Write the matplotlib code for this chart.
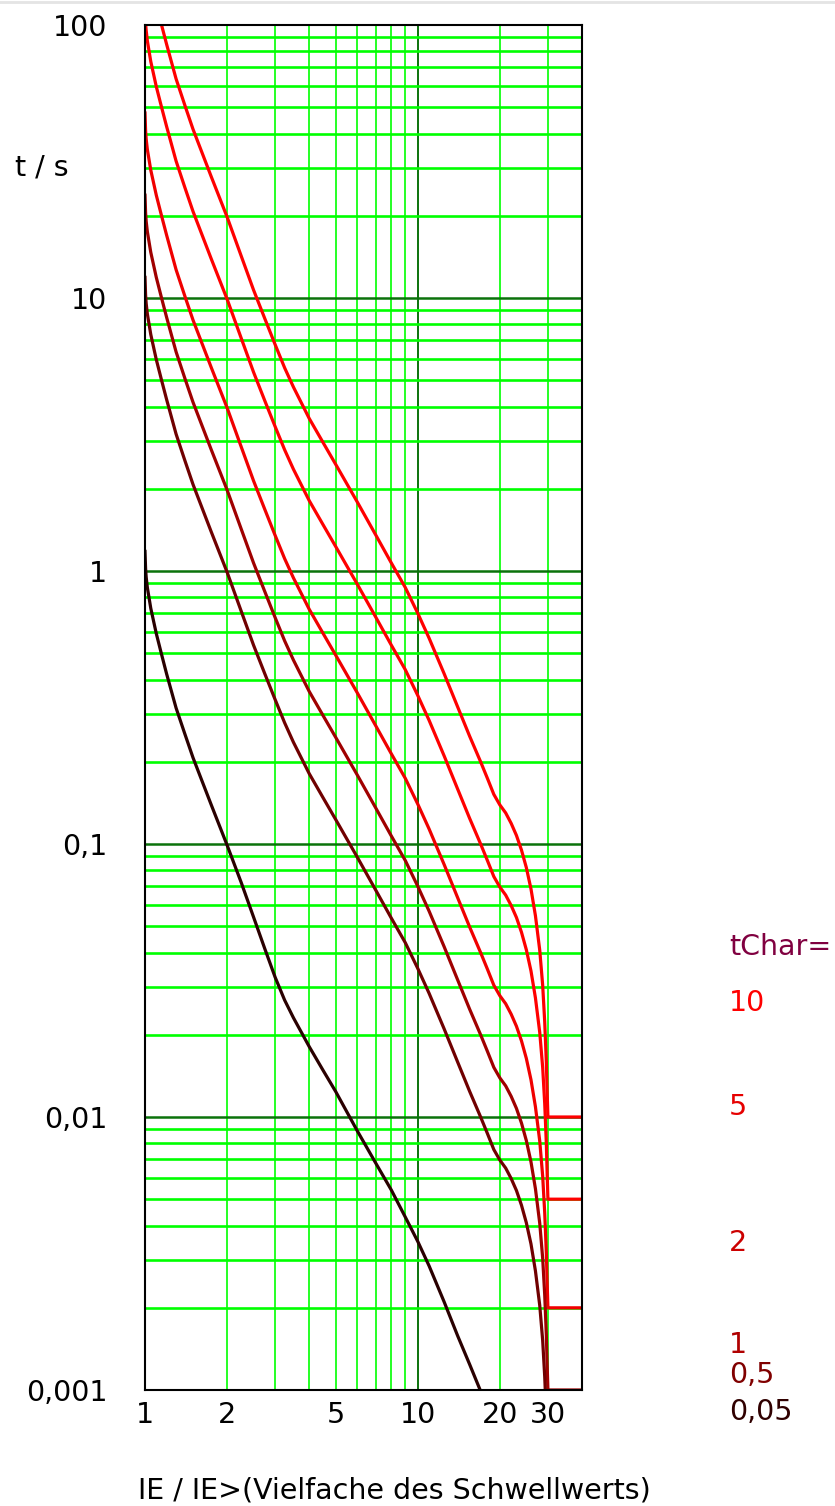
import matplotlib
matplotlib.use('Agg')
import matplotlib.pyplot as plt
from matplotlib.ticker import NullLocator
from matplotlib.lines import Line2D

# Auslösekennlinien: t / s über IE / IE>, je tChar eine Kurve
x_pts = [1.0, 1.005, 1.01, 1.02, 1.05, 1.1, 1.15, 1.2, 1.3, 1.4, 1.5, 1.75, 2.0, 2.25, 2.5, 2.75,
         3.0, 3.25, 3.5, 4, 4.5, 5, 6, 7, 8, 9, 10, 11, 12.5, 14, 15.5, 17, 18, 19, 20, 21, 22,
         23, 24, 25, 26, 27, 28, 28.7, 29.2, 29.6, 29.85, 30, 40]

x_10 = x_pts[6:]
t_10 = [100, 85, 63.5, 50.8, 41.5, 27.8, 19.8, 14.3, 10.7, 8.4, 6.75, 5.55, 4.72, 3.62, 2.95,
        2.46, 1.79, 1.36, 1.07, 0.87, 0.70, 0.568, 0.42, 0.318, 0.248, 0.20, 0.174, 0.152, 0.139,
        0.130, 0.119, 0.1075, 0.095, 0.082, 0.0685, 0.0546, 0.0408, 0.0304, 0.0223, 0.0159,
        0.0118, 0.010, 0.010]

x_5 = [1.006] + x_pts[2:]
t_5 = [100, 95.5, 87.5, 73.5, 59.5, 50, 42.5, 31.75, 25.4, 20.75, 13.9, 9.9, 7.15, 5.35, 4.2,
       3.38, 2.78, 2.36, 1.81, 1.475, 1.23, 0.895, 0.68, 0.535, 0.435, 0.35, 0.284, 0.21, 0.159,
       0.124, 0.10, 0.087, 0.076, 0.0695, 0.065, 0.0595, 0.0538, 0.0475, 0.041, 0.0343, 0.0273,
       0.0204, 0.0152, 0.0112, 0.008, 0.0059, 0.005, 0.005]

x_2 = x_pts
t_2 = [47.6, 41, 38.2, 35, 29.4, 23.8, 20, 17, 12.7, 10.16, 8.3, 5.56, 3.96, 2.86, 2.14, 1.68,
       1.35, 1.11, 0.944, 0.724, 0.59, 0.492, 0.358, 0.272, 0.214, 0.174, 0.14, 0.1136, 0.084,
       0.0636, 0.0496, 0.040, 0.0348, 0.0304, 0.0278, 0.026, 0.0238, 0.0215, 0.019, 0.0164,
       0.0137, 0.0109, 0.00816, 0.00608, 0.00446, 0.00318, 0.00236, 0.002, 0.002]

x_1 = x_pts
t_1 = [23.8, 20.5, 19.1, 17.5, 14.7, 11.9, 10.0, 8.5, 6.35, 5.08, 4.15, 2.78, 1.98, 1.43, 1.07,
       0.84, 0.675, 0.555, 0.472, 0.362, 0.295, 0.246, 0.179, 0.136, 0.107, 0.087, 0.070,
       0.0568, 0.042, 0.0318, 0.0248, 0.020, 0.0174, 0.0152, 0.0139, 0.0130, 0.0119, 0.01075,
       0.0095, 0.0082, 0.00685, 0.00546, 0.00408, 0.00304, 0.00223, 0.00159, 0.00118, 0.001,
       0.001]

x_05 = x_pts[:46]
t_05 = [11.9, 10.25, 9.55, 8.75, 7.35, 5.95, 5.0, 4.25, 3.175, 2.54, 2.075, 1.39, 0.99, 0.715,
        0.535, 0.42, 0.338, 0.278, 0.236, 0.181, 0.1475, 0.123, 0.0895, 0.068, 0.0535, 0.0435,
        0.035, 0.0284, 0.021, 0.0159, 0.0124, 0.010, 0.0087, 0.0076, 0.00695, 0.0065, 0.00595,
        0.00538, 0.00475, 0.0041, 0.00343, 0.00273, 0.00204, 0.00152, 0.00112, 0.0008]

x_005 = [1.0, 1.005, 1.01, 1.02, 1.05, 1.1, 1.15, 1.2, 1.3, 1.4, 1.5, 1.75, 2.0, 2.25, 2.5, 2.75,
         3.0, 3.25, 3.5, 4, 4.5, 5, 6, 7, 8, 9, 10, 11, 12.5, 14, 15.5, 17]
t_005 = [1.18, 1.02, 0.95, 0.87, 0.73, 0.59, 0.495, 0.42, 0.315, 0.253, 0.207, 0.139, 0.099,
         0.0725, 0.054, 0.0413, 0.0325, 0.0268, 0.0231, 0.0181, 0.0148, 0.0124, 0.0089, 0.0068,
         0.0054, 0.0043, 0.0035, 0.00285, 0.0021, 0.00158, 0.00124, 0.00099]

curves = [(x_10, t_10, '#ff0000'), (x_5, t_5, '#ff0000'), (x_2, t_2, '#f00000'),
          (x_1, t_1, '#a00000'), (x_05, t_05, '#700000'), (x_005, t_005, '#2a0000')]

x_ticks = [1, 2, 5, 10, 20, 30]
x_ticklabels = ['1', '2', '5', '10', '20', '30']
y_ticks = [0.001, 0.01, 0.1, 1, 10, 100]
y_ticklabels = ['0,001', '0,01', '0,1', '1', '10', '100']

legend_texts = ['tChar=', '10', '5', '2', '1', '0,5', '0,05']
legend_colors = ['#800040', '#ff0000', '#e60000', '#cc0000', '#b00000', '#800000', '#300000']
legend_y = [947, 1003, 1107, 1243, 1345, 1375, 1412]

W, H = 835, 1506
fs = 20.5
fig = plt.figure(figsize=(W / 100, H / 100), dpi=100)
ax = fig.add_axes([145 / W, 1 - 1390 / H, (582 - 145) / W, (1390 - 25) / H])
ax.set_xscale('log')
ax.set_yscale('log')
ax.set_xlim(1, 40)
ax.set_ylim(0.001, 100)

# Gitter
bright = '#00ff00'
dark = '#0b720b'
for v in [2, 3, 4, 5, 6, 7, 8, 9, 20, 30]:
    ax.axvline(v, color=bright, lw=1.2, zorder=1)
ax.axvline(10, color=dark, lw=1.4, zorder=1)
for k in [-3, -2, -1, 0, 1]:
    for d in range(2, 10):
        ax.axhline(d * 10.0 ** k, color=bright, lw=1.9, zorder=1)
for v in [0.01, 0.1, 1, 10]:
    ax.axhline(v, color=dark, lw=1.8, zorder=1.5)

for xs, ts, c in curves:
    ax.plot(xs, ts, color=c, lw=2.3, zorder=3, solid_joinstyle='round')

ax.set_xticks(x_ticks, labels=x_ticklabels)
ax.set_yticks(y_ticks, labels=y_ticklabels)
ax.xaxis.set_minor_locator(NullLocator())
ax.yaxis.set_minor_locator(NullLocator())
ax.tick_params(axis='both', length=0, labelsize=fs)
ax.tick_params(axis='y', pad=27)
ax.tick_params(axis='x', pad=8)
for s in ax.spines.values():
    s.set_color('black')
    s.set_linewidth(1.5)
    s.set_zorder(4)

fig.text(15 / W, 1 - 168 / H, 't / s', fontsize=fs, ha='left', va='center')
fig.text(138 / W, 1 - 1490 / H, 'IE / IE>(Vielfache des Schwellwerts)', fontsize=fs,
         ha='left', va='center')
for txt, col, yy in zip(legend_texts, legend_colors, legend_y):
    fig.text(729 / W, 1 - yy / H, txt, color=col, fontsize=fs, ha='left', va='center')

fig.add_artist(Line2D([0, 1], [1 - 2 / H, 1 - 2 / H], color='#e4e4e4', lw=2,
                      transform=fig.transFigure))

fig.savefig('out.png', dpi=100)
